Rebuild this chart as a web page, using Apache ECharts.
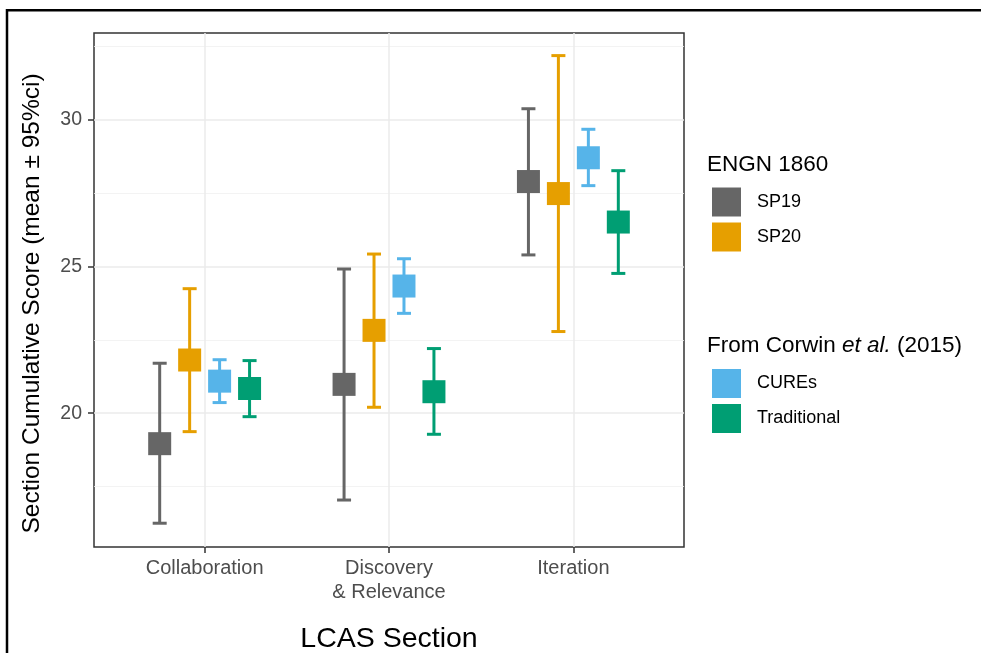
<!DOCTYPE html>
<html>
<head>
<meta charset="utf-8">
<script src="https://cdn.jsdelivr.net/npm/echarts@6/dist/echarts.min.js"></script>
<style>
  html, body { margin: 0; padding: 0; background: #fff; }
  #chart { width: 981px; height: 653px; }
</style>
</head>
<body>
<div id="chart"></div>
<script>
// LCAS sections on the x axis
const categories = ["Collaboration", "Discovery\n& Relevance", "Iteration"];
const groups = ["SP19", "SP20", "CUREs", "Traditional"];
const groupColors = ["#666666", "#E69F00", "#56B4E9", "#009E73"];

// mean and 95% ci per section
const sp19Mean = [18.96, 20.98, 27.89];
const sp19Lo = [16.25, 17.04, 25.39];
const sp19Hi = [21.70, 24.91, 30.37];
const sp20Mean = [21.81, 22.82, 27.48];
const sp20Lo = [19.37, 20.20, 22.78];
const sp20Hi = [24.24, 25.42, 32.18];
const curesMean = [21.09, 24.33, 28.70];
const curesLo = [20.36, 23.40, 27.75];
const curesHi = [21.82, 25.26, 29.67];
const tradMean = [20.84, 20.73, 26.51];
const tradLo = [19.88, 19.28, 24.76];
const tradHi = [21.79, 22.20, 28.26];

const yTicks = [20, 25, 30];
const yMinorTicks = [17.5, 22.5, 27.5, 32.5];

const means = [sp19Mean, sp20Mean, curesMean, tradMean];
const los = [sp19Lo, sp20Lo, curesLo, tradLo];
const his = [sp19Hi, sp20Hi, curesHi, tradHi];

// ggplot-like dodge
const dodgeWidth = 0.65;
function dodge(k) {
    return (k - (groups.length - 1) / 2) * dodgeWidth / groups.length;
}

const chart = echarts.init(document.getElementById("chart"));

function renderErr(params, api) {
    const x = api.value(0);
    const top = api.coord([x, api.value(3)]);
    const bot = api.coord([x, api.value(2)]);
    const mid = api.coord([x, api.value(1)]);
    const color = api.visual("color");
    const cap = 7, half = 11.5;
    const ls = { stroke: color, lineWidth: 3 };
    return {
        type: "group",
        children: [
            { type: "line", shape: { x1: top[0], y1: top[1], x2: bot[0], y2: bot[1] }, style: ls },
            { type: "line", shape: { x1: top[0] - cap, y1: top[1], x2: top[0] + cap, y2: top[1] }, style: ls },
            { type: "line", shape: { x1: bot[0] - cap, y1: bot[1], x2: bot[0] + cap, y2: bot[1] }, style: ls },
            { type: "rect", shape: { x: mid[0] - half, y: mid[1] - half, width: half * 2, height: half * 2 }, style: { fill: color } }
        ]
    };
}

const series = groups.map(function (g, k) {
    return {
        name: g,
        type: "custom",
        renderItem: renderErr,
        itemStyle: { color: groupColors[k] },
        encode: { x: 0, y: [1, 2, 3] },
        data: categories.map(function (c, i) {
            return [i + 1 + dodge(k), means[k][i], los[k][i], his[k][i]];
        })
    };
});

const font = "'Liberation Sans', Arial, Helvetica, sans-serif";
const legendCommon = {
    orient: "vertical",
    left: 712,
    padding: 0,
    itemWidth: 29,
    itemHeight: 29,
    itemGap: 6,
    icon: "rect",
    selectedMode: false,
    textStyle: { fontFamily: font, fontSize: 18, color: "#000", padding: [0, 0, 0, 11] }
};

chart.setOption({
    animation: false,
    textStyle: { fontFamily: font },
    grid: {
        left: 94, top: 33, right: 297, bottom: 106,
        outerBoundsMode: "none", containLabel: false,
        show: true, borderColor: "#333", borderWidth: 1.5, backgroundColor: "transparent"
    },
    title: [
        { text: "ENGN 1860", left: 707, top: 153, padding: 0, textStyle: { fontFamily: font, fontSize: 22.5, fontWeight: "normal", color: "#000" } },
        {
            text: "{n|From Corwin }{i|et al.}{n| (2015)}", left: 707, top: 334, padding: 0,
            textStyle: {
                fontFamily: font, fontSize: 22.5, fontWeight: "normal", color: "#000",
                rich: {
                    n: { fontFamily: font, fontSize: 22.5, color: "#000" },
                    i: { fontFamily: font, fontSize: 22.5, color: "#000", fontStyle: "italic" }
                }
            }
        }
    ],
    legend: [
        Object.assign({}, legendCommon, { top: 187.5, data: groups.slice(0, 2) }),
        Object.assign({}, legendCommon, { top: 369, data: groups.slice(2) })
    ],
    xAxis: {
        type: "value",
        min: 0.4,
        max: 3.6,
        name: "LCAS Section",
        nameLocation: "middle",
        nameGap: 78,
        nameTextStyle: { fontFamily: font, fontSize: 28.5, color: "#000" },
        axisLine: { show: false },
        axisTick: { show: true, length: 6, customValues: [1, 2, 3], lineStyle: { color: "#333", width: 1.5 } },
        axisLabel: {
            customValues: [1, 2, 3],
            margin: 10,
            fontSize: 20,
            lineHeight: 23.5,
            color: "#4d4d4d",
            formatter: function (v) { return categories[Math.round(v) - 1]; }
        },
        splitLine: { show: true, lineStyle: { color: "#ebebeb", width: 1.5 } }
    },
    yAxis: [
        {
            type: "value",
            min: 15.44,
            max: 32.95,
            axisLine: { show: false },
            axisTick: { show: true, length: 6, customValues: yTicks, lineStyle: { color: "#333", width: 1.5 } },
            axisLabel: { customValues: yTicks, margin: 12, fontSize: 19.5, color: "#4d4d4d" },
            splitLine: { show: true, lineStyle: { color: "#ebebeb", width: 1.5 } }
        },
        {
            type: "value",
            min: 15.44,
            max: 32.95,
            position: "left",
            axisLine: { show: false },
            axisTick: { show: false, customValues: yMinorTicks },
            axisLabel: { show: false, customValues: yMinorTicks },
            splitLine: { show: true, lineStyle: { color: "#f0f0f0", width: 0.8 } }
        }
    ],
    graphic: [
        {
            type: "text",
            x: 32,
            y: 303.5,
            rotation: Math.PI / 2,
            style: {
                text: "Section Cumulative Score (mean \u00b1 95%ci)",
                font: "24.5px " + font,
                fill: "#000",
                textAlign: "center",
                textVerticalAlign: "middle"
            }
        },
        {
            type: "rect",
            shape: { x: 7, y: 10.3, width: 1000, height: 700 },
            style: { fill: null, stroke: "#000", lineWidth: 2.5 },
            silent: true
        }
    ],
    series: series
});
</script>
</body>
</html>
